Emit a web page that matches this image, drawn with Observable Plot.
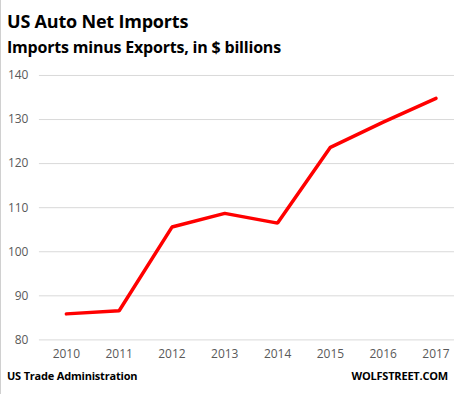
<!DOCTYPE html>
<html><head><meta charset="utf-8">
<script src="https://cdn.jsdelivr.net/npm/d3@7"></script>
<script src="https://cdn.jsdelivr.net/npm/@observablehq/plot@0.6"></script>
<style>
html,body{margin:0;padding:0;background:#fff;}
#wrap{position:relative;width:454px;height:394px;overflow:hidden;font-family:"Open Sans",sans-serif;border-left:1px solid #d0d0d0;box-sizing:border-box;}
#title{position:absolute;left:6px;top:11px;font-size:18px;font-weight:700;color:#000;letter-spacing:-0.2px;line-height:20px;}
#subtitle{position:absolute;left:6px;top:37px;font-size:16px;font-weight:700;color:#000;letter-spacing:-0.2px;line-height:20px;}
#chart{position:absolute;left:-1px;top:60px;}
#src{position:absolute;left:6px;top:368px;font-size:11px;font-weight:700;color:#000;letter-spacing:-0.2px;}
#brand{position:absolute;right:6px;top:368px;font-size:11px;font-weight:700;color:#000;letter-spacing:-0.2px;}
</style></head>
<body><div id="wrap">
<div id="title">US Auto Net Imports</div>
<div id="subtitle">Imports minus Exports, in $ billions</div>
<div id="chart"></div>
<div id="src">US Trade Administration</div>
<div id="brand">WOLFSTREET.COM</div>
</div>
<script>
const years = [2010, 2011, 2012, 2013, 2014, 2015, 2016, 2017];
const netImports = [85.9, 86.6, 105.6, 108.7, 106.5, 123.7, 129.4, 134.8];
const yTicks = [80, 90, 100, 110, 120, 130, 140];

const data = years.map((y, i) => ({year: y, value: netImports[i]}));

const plot = Plot.plot({
  width: 455,
  height: 305,
  marginTop: 15,
  marginBottom: 25,
  marginLeft: 39,
  marginRight: 0,
  style: {fontFamily: "'Open Sans', sans-serif", fontSize: "12px", color: "#595959", background: "transparent"},
  x: {domain: [2009.49, 2017.35], ticks: years, tickFormat: d => String(d), tickSize: 0, tickPadding: 10, label: null},
  y: {domain: [80, 140], ticks: yTicks, tickSize: 0, tickPadding: 11, label: null},
  marks: [
    Plot.ruleY(yTicks, {stroke: "#d9d9d9", strokeWidth: 1}),
    Plot.line(data, {x: "year", y: "value", stroke: "#ff0000", strokeWidth: 3.5, strokeLinejoin: "miter"})
  ]
});
document.getElementById("chart").appendChild(plot);
</script>
</body></html>
